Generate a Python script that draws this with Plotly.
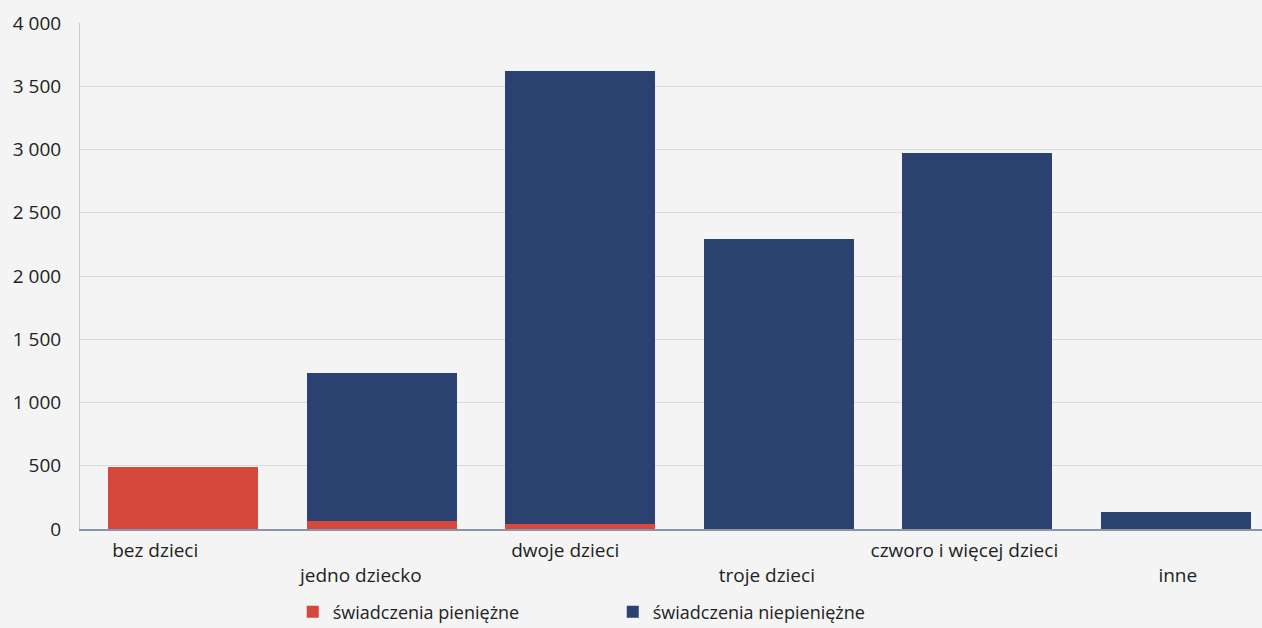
import plotly.graph_objects as go

categories = ["bez dzieci", "jedno dziecko", "dwoje dzieci", "troje dzieci", "czworo i więcej dzieci", "inne"]
tick_labels = ["bez dzieci", "<br>jedno dziecko", "dwoje dzieci", "<br>troje dzieci", "czworo i więcej dzieci", "<br>inne"]
pieniezne = [490, 60, 40, 0, 0, 0]
niepieniezne = [0, 1170, 3580, 2290, 2970, 135]
y_ticks = [0, 500, 1000, 1500, 2000, 2500, 3000, 3500, 4000]
y_tick_text = ["0", "500", "1 000", "1 500", "2 000", "2 500", "3 000", "3 500", "4 000"]
# horizontal nudge of each category label relative to its bar (in category units)
label_nudge = [-0.14, -0.105, -0.075, -0.06, -0.065, 0.01]

RED = "#d4493b"
BLUE = "#2b4270"

fig = go.Figure()
fig.add_trace(go.Bar(x=categories, y=pieniezne, name="świadczenia pieniężne",
                     marker=dict(color=RED, line=dict(width=0))))
fig.add_trace(go.Bar(x=categories, y=niepieniezne, name="świadczenia niepieniężne",
                     marker=dict(color=BLUE, line=dict(width=0))))

fig.update_layout(
    barmode="stack",
    bargap=0.244,
    width=1262, height=628,
    margin=dict(l=80, r=0, t=23, b=99, autoexpand=False),
    paper_bgcolor="#f4f4f4",
    plot_bgcolor="#f4f4f4",
    font=dict(family="Open Sans", size=18, color="#222222"),
    showlegend=True,
    legend=dict(orientation="h", x=0.18, xanchor="left", y=-0.164, yanchor="middle",
                traceorder="normal",
                entrywidth=275, entrywidthmode="pixels", font=dict(size=18),
                bgcolor="rgba(0,0,0,0)"),
)
fig.update_xaxes(tickmode="array",
                 tickvals=[i + d for i, d in enumerate(label_nudge)], ticktext=tick_labels,
                 showgrid=False, automargin=False,
                 range=[-0.519, 5.434],
                 showline=True, linecolor="#8a96a8", linewidth=2, ticks="",
                 ticklabelstandoff=3,
                 tickfont=dict(size=19))
fig.update_yaxes(range=[0, 4000], tickvals=y_ticks, ticktext=y_tick_text,
                 showgrid=True, gridcolor="#d6dbe2", gridwidth=1, automargin=False,
                 showline=True, linecolor="#c8cdd5", linewidth=1,
                 zeroline=False, ticks="", ticklabelstandoff=14,
                 tickfont=dict(size=19))
fig.write_html("out.html", config={"displayModeBar": False},
               post_script="document.body.style.margin='0';document.body.style.overflow='hidden';")
